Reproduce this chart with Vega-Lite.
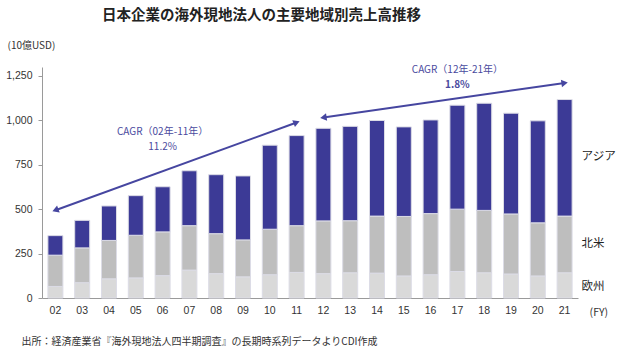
{
  "$schema": "https://vega.github.io/schema/vega-lite/v6.json",
  "autosize": {"type": "none"},
  "padding": {"left": 42, "top": 67, "right": 42, "bottom": 54},
  "width": 536,
  "height": 231,
  "background": "white",
  "title": {
    "text": "日本企業の海外現地法人の主要地域別売上高推移",
    "anchor": "start",
    "frame": "group",
    "dx": 60,
    "offset": 17,
    "font": "Noto Sans CJK JP",
    "fontSize": 14.5,
    "fontWeight": "bold",
    "color": "#222222"
  },
  "config": {
    "view": {"stroke": null},
    "font": "Noto Sans CJK JP",
    "axisY": {"format": ",", "labelExpr": "format(datum.value, ',')"}
  },
  "datasets": {
    "bars": [
      {"year": "02", "region": "欧州", "value": 65}, {"year": "02", "region": "北米", "value": 176}, {"year": "02", "region": "アジア", "value": 110},
      {"year": "03", "region": "欧州", "value": 86}, {"year": "03", "region": "北米", "value": 196}, {"year": "03", "region": "アジア", "value": 155},
      {"year": "04", "region": "欧州", "value": 108}, {"year": "04", "region": "北米", "value": 216}, {"year": "04", "region": "アジア", "value": 194},
      {"year": "05", "region": "欧州", "value": 113}, {"year": "05", "region": "北米", "value": 240}, {"year": "05", "region": "アジア", "value": 223},
      {"year": "06", "region": "欧州", "value": 126}, {"year": "06", "region": "北米", "value": 246}, {"year": "06", "region": "アジア", "value": 254},
      {"year": "07", "region": "欧州", "value": 157}, {"year": "07", "region": "北米", "value": 250}, {"year": "07", "region": "アジア", "value": 309},
      {"year": "08", "region": "欧州", "value": 137}, {"year": "08", "region": "北米", "value": 225}, {"year": "08", "region": "アジア", "value": 332},
      {"year": "09", "region": "欧州", "value": 119}, {"year": "09", "region": "北米", "value": 208}, {"year": "09", "region": "アジア", "value": 360},
      {"year": "10", "region": "欧州", "value": 131}, {"year": "10", "region": "北米", "value": 256}, {"year": "10", "region": "アジア", "value": 473},
      {"year": "11", "region": "欧州", "value": 144}, {"year": "11", "region": "北米", "value": 263}, {"year": "11", "region": "アジア", "value": 507},
      {"year": "12", "region": "欧州", "value": 137}, {"year": "12", "region": "北米", "value": 297}, {"year": "12", "region": "アジア", "value": 521},
      {"year": "13", "region": "欧州", "value": 142}, {"year": "13", "region": "北米", "value": 293}, {"year": "13", "region": "アジア", "value": 531},
      {"year": "14", "region": "欧州", "value": 140}, {"year": "14", "region": "北米", "value": 321}, {"year": "14", "region": "アジア", "value": 538},
      {"year": "15", "region": "欧州", "value": 124}, {"year": "15", "region": "北米", "value": 335}, {"year": "15", "region": "アジア", "value": 504},
      {"year": "16", "region": "欧州", "value": 131}, {"year": "16", "region": "北米", "value": 344}, {"year": "16", "region": "アジア", "value": 527},
      {"year": "17", "region": "欧州", "value": 149}, {"year": "17", "region": "北米", "value": 351}, {"year": "17", "region": "アジア", "value": 585},
      {"year": "18", "region": "欧州", "value": 142}, {"year": "18", "region": "北米", "value": 351}, {"year": "18", "region": "アジア", "value": 603},
      {"year": "19", "region": "欧州", "value": 135}, {"year": "19", "region": "北米", "value": 338}, {"year": "19", "region": "アジア", "value": 567},
      {"year": "20", "region": "欧州", "value": 124}, {"year": "20", "region": "北米", "value": 299}, {"year": "20", "region": "アジア", "value": 574},
      {"year": "21", "region": "欧州", "value": 142}, {"year": "21", "region": "北米", "value": 319}, {"year": "21", "region": "アジア", "value": 656}
    ],
    "arrows": [
      {"id": "a", "x": "02", "y": 494, "x2": "11", "y2": 988},
      {"id": "b", "x": "12", "y": 1016, "x2": "21", "y2": 1210}
    ],
    "legendLabels": [
      {"label": "アジア", "year": "21", "y": 792},
      {"label": "北米", "year": "21", "y": 302},
      {"label": "欧州", "year": "21", "y": 64}
    ]
  },
  "encoding": {
    "x": {
      "field": "year", "type": "nominal",
      "scale": {"paddingInner": 0.44, "paddingOuter": 0.22},
      "axis": {
        "labelAngle": 0, "ticks": false, "domainColor": "#9a9a9a",
        "labelFont": "Liberation Sans", "labelFontSize": 10.5, "labelColor": "#333333",
        "labelPadding": 7,
        "title": "出所：経済産業省『海外現地法人四半期調査』の長期時系列データよりCDI作成",
        "titleFont": "Noto Sans CJK JP", "titleFontSize": 10, "titleFontWeight": "normal",
        "titleColor": "#333333", "titleAlign": "left", "titleBaseline": "middle",
        "titleX": -21, "titleY": 43
      }
    }
  },
  "layer": [
    {
      "data": {"name": "bars"},
      "mark": {"type": "bar", "stroke": "#dcdce6", "strokeWidth": 1},
      "encoding": {
        "y": {
          "field": "value", "type": "quantitative", "stack": "zero",
          "scale": {"domain": [0, 1250]},
          "axis": {
            "values": [0, 250, 500, 750, 1000, 1250], "format": ",", "grid": false,
            "tickSize": 4, "tickColor": "#9a9a9a", "domainColor": "#9a9a9a",
            "labelPadding": 6, "labelFont": "Liberation Sans", "labelFontSize": 10.5, "labelColor": "#333333",
            "title": "(10億USD)", "titleAngle": 0, "titleAlign": "left", "titleBaseline": "middle",
            "titleX": -35, "titleY": -22, "titleFontSize": 10, "titleFontWeight": "normal", "titleColor": "#333333"
          }
        },
        "color": {
          "field": "region", "type": "nominal",
          "sort": ["欧州", "北米", "アジア"],
          "scale": {"domain": ["欧州", "北米", "アジア"], "range": ["#d9d9d9", "#bebebe", "#3c3a96"]},
          "legend": null
        }
      }
    },
    {
      "data": {"name": "arrows"},
      "mark": {"type": "rule", "color": "#4646a0", "strokeWidth": 2},
      "encoding": {
        "x": {"field": "x", "type": "nominal", "bandPosition": 0.5},
        "x2": {"field": "x2", "bandPosition": 0.5},
        "y": {"field": "y", "type": "quantitative"},
        "y2": {"field": "y2"}
      }
    },
    {
      "data": {"name": "arrows"},
      "transform": [{"filter": "datum.id == 'a'"}],
      "mark": {"type": "point", "shape": "triangle-left", "filled": true, "color": "#4646a0", "size": 55, "opacity": 1, "angle": 339},
      "encoding": {
        "x": {"field": "x", "type": "nominal"},
        "y": {"field": "y", "type": "quantitative"}
      }
    },
    {
      "data": {"name": "arrows"},
      "transform": [{"filter": "datum.id == 'a'"}],
      "mark": {"type": "point", "shape": "triangle-right", "filled": true, "color": "#4646a0", "size": 55, "opacity": 1, "angle": 339},
      "encoding": {
        "x": {"field": "x2", "type": "nominal"},
        "y": {"field": "y2", "type": "quantitative"}
      }
    },
    {
      "data": {"name": "arrows"},
      "transform": [{"filter": "datum.id == 'b'"}],
      "mark": {"type": "point", "shape": "triangle-left", "filled": true, "color": "#4646a0", "size": 55, "opacity": 1, "angle": 351.5},
      "encoding": {
        "x": {"field": "x", "type": "nominal"},
        "y": {"field": "y", "type": "quantitative"}
      }
    },
    {
      "data": {"name": "arrows"},
      "transform": [{"filter": "datum.id == 'b'"}],
      "mark": {"type": "point", "shape": "triangle-right", "filled": true, "color": "#4646a0", "size": 55, "opacity": 1, "angle": 351.5},
      "encoding": {
        "x": {"field": "x2", "type": "nominal"},
        "y": {"field": "y2", "type": "quantitative"}
      }
    },
    {
      "data": {"values": [
        {"t": "CAGR（02年-11年）", "year": "06", "y": 936},
        {"t": "11.2%", "year": "06", "y": 850},
        {"t": "CAGR（12年-21年）", "year": "17", "y": 1284}
      ]},
      "mark": {"type": "text", "color": "#4a4a9e", "fontSize": 10, "font": "Noto Sans CJK JP", "baseline": "middle"},
      "encoding": {
        "x": {"field": "year", "type": "nominal"},
        "y": {"field": "y", "type": "quantitative"},
        "text": {"field": "t"}
      }
    },
    {
      "data": {"values": [
        {"t": "1.8%", "year": "17", "y": 1200}
      ]},
      "mark": {"type": "text", "color": "#4a4a9e", "fontSize": 10, "fontWeight": "bold", "font": "Noto Sans CJK JP", "baseline": "middle"},
      "encoding": {
        "x": {"field": "year", "type": "nominal"},
        "y": {"field": "y", "type": "quantitative"},
        "text": {"field": "t"}
      }
    },
    {
      "data": {"name": "legendLabels"},
      "mark": {"type": "text", "align": "left", "dx": 17, "fontSize": 11.5, "color": "#222222", "font": "Noto Sans CJK JP", "baseline": "middle"},
      "encoding": {
        "x": {"field": "year", "type": "nominal"},
        "y": {"field": "y", "type": "quantitative"},
        "text": {"field": "label"}
      }
    },
    {
      "data": {"values": [{"t": "(FY)", "year": "21", "y": 0}]},
      "mark": {"type": "text", "align": "left", "dx": 25, "dy": 15, "fontSize": 10.5, "color": "#333333", "font": "Noto Sans CJK JP", "baseline": "middle"},
      "encoding": {
        "x": {"field": "year", "type": "nominal"},
        "y": {"field": "y", "type": "quantitative"},
        "text": {"field": "t"}
      }
    }
  ]
}
